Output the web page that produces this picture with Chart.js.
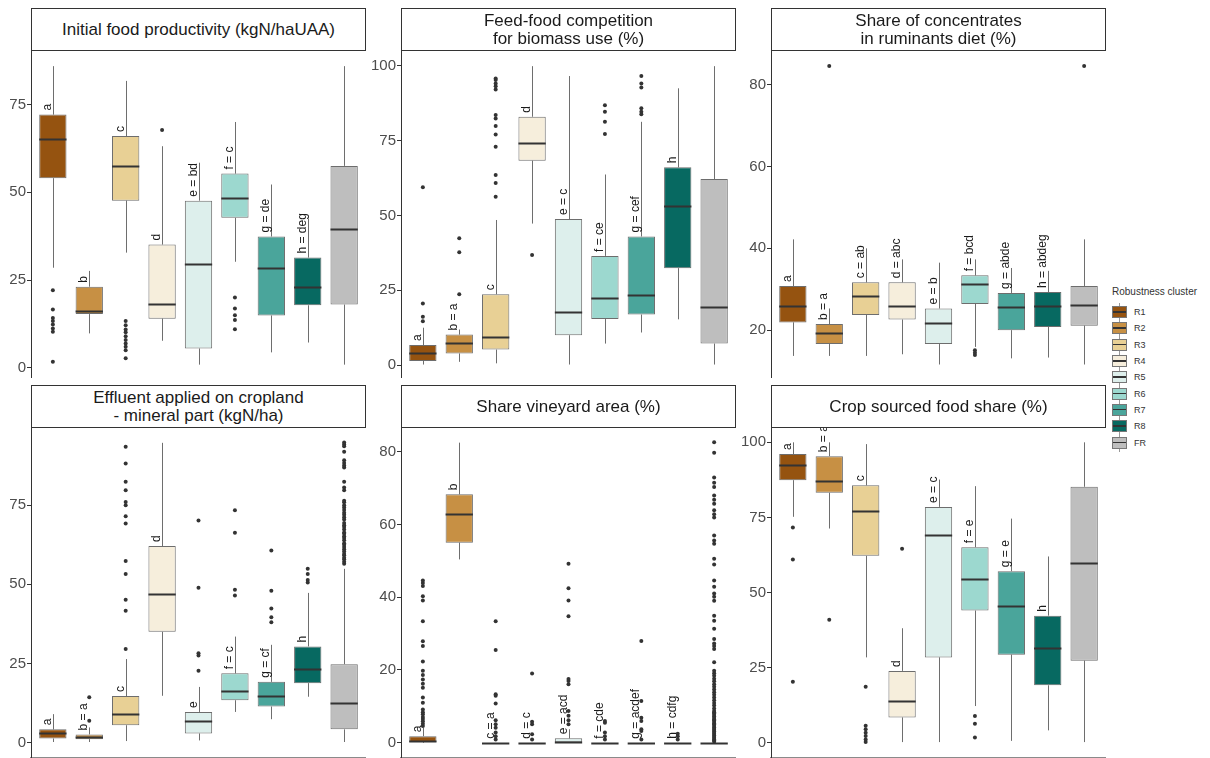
<!DOCTYPE html>
<html>
<head>
<meta charset="utf-8">
<script src="https://cdn.jsdelivr.net/npm/chart.js@4.4.1/dist/chart.umd.min.js"></script>
<style>
  body { margin: 0; width: 1210px; height: 758px; background: #fff; position: relative; overflow: hidden;
         font-family: "Liberation Sans", Arial, sans-serif; }
  canvas { position: absolute; }
  .strip { position: absolute; box-sizing: border-box; border: 1px solid #333; background: #fff; z-index: 2;
           display: flex; align-items: center; justify-content: center; text-align: center;
           white-space: pre-line; font-size: 17px; line-height: 18px; color: #1a1a1a; }
  .legend { position: absolute; left: 1112px; top: 286px; font-size: 9px; color: #333; z-index: 3; }
  .legend .ttl { font-size: 10px; margin-bottom: 7px; }
  .legend .row { height: 16.3px; display: flex; align-items: center; }
  .legend .key { position: relative; width: 15px; height: 12px; box-sizing: border-box; border: 1px solid #777; margin-right: 7px; }
  .legend .key::after { content: ""; position: absolute; left: 0; right: 0; top: 4px; height: 1.5px; background: #333; }
  .legend .key::before { content: ""; position: absolute; left: 6px; top: -4px; height: 18px; width: 1px; background: #999; z-index: -1; }
</style>
</head>
<body>
<div class="legend" id="legend"></div>
<script>
// groupes et couleurs
const clusters = ['R1', 'R2', 'R3', 'R4', 'R5', 'R6', 'R7', 'R8', 'FR'];
const palette = ['#955310', '#c79044', '#e8d095', '#f6eedc', '#ddefec', '#9cd8cf', '#4aa59b', '#076961', '#bebebe'];

const titles = [
  'Initial food productivity (kgN/haUAA)',
  'Feed-food competition\nfor biomass use (%)',
  'Share of concentrates\nin ruminants diet (%)',
  'Effluent applied on cropland\n- mineral part (kgN/ha)',
  'Share vineyard area (%)',
  'Crop sourced food share (%)'
];

// [whisker bas, Q1, mediane, Q3, whisker haut] par groupe
const prodStats = [[28.5, 54.0, 65.1, 72.1, 85.9], [9.8, 15.3, 16.1, 23.1, 27.6], [32.8, 47.6, 57.4, 66.0, 81.7],
  [7.7, 14.0, 18.3, 35.1, 63.1], [0.9, 5.5, 29.7, 47.6, 58.4], [30.2, 42.7, 48.4, 55.3, 70.0],
  [4.4, 14.9, 28.5, 37.4, 52.2], [7.2, 17.8, 22.9, 31.4, 42.5], [0.9, 18.0, 39.5, 57.5, 85.9]];
const prodOutliers = [[22.1, 16.6, 14.2, 13.3, 12.3, 11.2, 10.3, 1.7], [],
  [13.3, 12.1, 10.9, 10.1, 9.0, 7.9, 6.9, 6.0, 5.0, 2.7], [67.7], [], [20.0, 16.9, 15.0, 13.6, 11.0], [], [], []];
const prodLetters = ['a', 'b', 'c', 'd', 'e = bd', 'f = c', 'g = de', 'h = deg', ''];
const prodTicks = [0, 25, 50, 75];

const feedStats = [[0.2, 1.4, 3.9, 6.7, 12.5], [1.1, 3.9, 7.5, 10.2, 11.9], [0.6, 5.2, 9.5, 23.7, 48.5],
  [47.3, 68.3, 74.1, 83.0, 99.9], [0.2, 10.0, 17.6, 48.8, 96.6], [7.2, 15.4, 22.5, 36.5, 63.7],
  [10.9, 16.9, 23.3, 43.0, 81.3], [15.3, 32.4, 53.1, 66.1, 92.5], [0.2, 7.2, 19.3, 62.2, 99.9]];
const feedOutliers = [[59.4, 20.6, 16.2, 14.7], [42.4, 37.7, 23.7],
  [56.3, 60.9, 63.5, 73.0, 77.1, 79.9, 82.4, 83.6, 92.1, 93.2, 94.1, 95.3, 95.8], [36.8], [],
  [77.2, 81.3, 84.7, 86.8], [83.8, 84.7, 85.8, 92.8, 94.1, 96.6], [], []];
const feedLetters = ['a', 'b = a', 'c', 'd', 'e = c', 'f = ce', 'g = cef', 'h', ''];
const feedTicks = [0, 25, 50, 75, 100];

const concStats = [[13.7, 21.9, 25.9, 30.8, 42.2], [13.7, 16.6, 19.3, 21.5, 25.3], [13.7, 23.7, 28.3, 31.7, 40.0],
  [14.1, 22.6, 26.0, 31.7, 37.3], [11.6, 16.6, 21.8, 25.3, 36.5], [15.9, 26.4, 31.2, 33.4, 37.3],
  [13.1, 20.0, 25.7, 29.1, 35.2], [13.3, 20.8, 25.9, 29.3, 34.5], [11.6, 21.1, 26.1, 30.8, 42.2]];
const concOutliers = [[], [84.6], [], [], [], [15.1, 14.5, 13.9], [], [], [84.6]];
const concLetters = ['a', 'b = a', 'c = ab', 'd = abc', 'e = b', 'f = bcd', 'g = abde', 'h = abdeg', ''];
const concTicks = [20, 40, 60, 80];

const efflStats = [[0.2, 1.3, 2.9, 4.2, 9.0], [0.2, 1.1, 1.8, 2.6, 4.8], [0.5, 5.5, 9.0, 14.7, 26.4],
  [14.8, 35.0, 46.9, 62.1, 94.7], [0.7, 2.9, 6.7, 9.7, 17.6], [9.7, 13.4, 16.2, 21.9, 33.5],
  [7.4, 11.4, 14.7, 19.2, 30.9], [14.5, 18.8, 23.2, 30.4, 47.3], [0.2, 4.2, 12.5, 24.8, 54.9]];
const efflOutliers = [[], [6.9, 14.3],
  [29.6, 41.7, 45.1, 53.3, 57.4, 69.2, 71.5, 75.0, 76.0, 79.7, 82.4, 88.2, 93.5], [],
  [22.7, 27.5, 28.2, 48.9, 70.2], [46.5, 48.3, 66.3, 73.4], [38.0, 39.6, 42.4, 48.0, 60.7],
  [50.6, 51.4, 53.3, 54.9],
  [56.5, 57.1, 57.9, 58.4, 59.2, 59.6, 60.4, 61.1, 61.8, 62.5, 63.0, 63.9, 64.6, 65.2, 66.0, 66.4, 67.3, 68.1,
   68.7, 69.4, 70.5, 71.2, 72.0, 72.6, 73.5, 74.3, 75.0, 75.9, 76.4, 79.7, 80.6, 82.4, 86.9, 87.5, 88.3, 89.2,
   91.9, 93.6, 94.2, 94.8]];
const efflLetters = ['a', 'b = a', 'c', 'd', 'e', 'f = c', 'g = cf', 'h', ''];
const efflTicks = [0, 25, 50, 75];

const vineStats = [[0, 0.2, 0.5, 1.8, 4.1], [50.4, 55.0, 63.0, 68.3, 82.5], [0, 0, 0, 0, 0], [0, 0, 0, 0, 0],
  [0, 0, 0.2, 1.2, 3.7], [0, 0, 0, 0, 0], [0, 0, 0, 0, 0], [0, 0, 0, 0, 0], [0, 0, 0, 0, 0]];
const vineOutliers = [
  [4.6, 5.2, 5.9, 6.5, 7.1, 7.8, 8.4, 9.1, 11.0, 12.4, 15.1, 16.2, 17.4, 18.6, 19.8, 22.3, 26.6, 27.9, 33.4,
   39.1, 40.3, 43.1, 43.9, 44.6],
  [],
  [0.9, 1.8, 2.8, 4.1, 5.1, 6.2, 10.8, 12.9, 13.3, 25.5, 33.4],
  [0.9, 2.3, 5.1, 5.8, 19.0],
  [5.1, 6.2, 7.4, 8.7, 16.1, 17.0, 17.5, 34.8, 39.1, 42.5, 49.2],
  [0.9, 1.8, 2.8, 5.5, 6.0],
  [0.9, 3.2, 3.7, 6.0, 6.9, 11.5, 28.0],
  [0.9, 1.8, 2.5],
  [0.3, 0.6, 0.9, 1.3, 1.6, 2.0, 2.4, 2.7, 3.1, 3.5, 3.8, 4.2, 4.6, 5.0, 5.3, 5.7, 6.1, 6.4, 6.8, 7.2, 7.6, 8.0,
   8.4, 8.7, 9.4, 10.2, 10.9, 11.7, 12.4, 13.2, 13.9, 14.6, 15.4, 16.1, 16.9, 17.6, 18.4, 19.1, 19.8, 22.1,
   25.8, 26.6, 27.3, 28.5, 31.3, 33.5, 34.9, 39.0, 40.1, 41.0, 42.9, 44.6, 49.0, 50.6, 54.7, 55.6, 57.0, 61.9,
   62.8, 63.9, 65.7, 66.8, 68.0, 70.3, 71.5, 72.9, 79.7, 82.6]];
const vineLetters = ['a', 'b', 'c = a', 'd = c', 'e = acd', 'f = cde', 'g = acdef', 'h = cdfg', ''];
const vineTicks = [0, 20, 40, 60, 80];

const cropStats = [[75.2, 87.4, 92.4, 96.1, 100], [71.3, 83.2, 87.1, 95.4, 100], [28.4, 62.2, 77.0, 85.7, 99.4],
  [0.2, 8.4, 13.9, 23.9, 38.1], [0.2, 28.4, 69.0, 78.5, 87.6], [12.2, 44.0, 54.6, 65.1, 85.4],
  [0.6, 29.3, 45.5, 57.1, 74.6], [4.1, 19.1, 31.4, 42.3, 62.0], [0.2, 27.3, 59.8, 85.2, 100]];
const cropOutliers = [[71.6, 61.0, 20.3], [40.9], [18.6, 5.6, 4.5, 3.3, 2.2, 1.1, 0.2], [64.6], [],
  [8.9, 6.3, 1.7], [], [], []];
const cropLetters = ['a', 'b = a', 'c', 'd', 'e = c', 'f = e', 'g = e', 'h', ''];
const cropTicks = [0, 25, 50, 75, 100];

// mise en page des panneaux
const panels = [
  { stats: prodStats, out: prodOutliers, letters: prodLetters, ticks: prodTicks, left: 0, top: 50, h: 328, yMin: -2.9, yMax: 90.5 },
  { stats: feedStats, out: feedOutliers, letters: feedLetters, ticks: feedTicks, left: 370, top: 50, h: 328, yMin: -4.3, yMax: 105.3 },
  { stats: concStats, out: concOutliers, letters: concLetters, ticks: concTicks, left: 740, top: 50, h: 328, yMin: 8.3, yMax: 88.5 },
  { stats: efflStats, out: efflOutliers, letters: efflLetters, ticks: efflTicks, left: 0, top: 427, h: 331, yMin: -4.85, yMax: 99.7, bottom: true },
  { stats: vineStats, out: vineOutliers, letters: vineLetters, ticks: vineTicks, left: 370, top: 427, h: 331, yMin: -4.2, yMax: 86.8, bottom: true },
  { stats: cropStats, out: cropOutliers, letters: cropLetters, ticks: cropTicks, left: 740, top: 427, h: 331, yMin: -5.1, yMax: 105.1, bottom: true }
];

// whiskers, medianes et lettres
const boxExtras = {
  id: 'boxExtras',
  beforeDatasetsDraw(chart) {
    const { ctx, scales: { x, y } } = chart;
    const stats = chart.$panel.stats;
    ctx.save();
    ctx.strokeStyle = '#6e6e6e';
    ctx.lineWidth = 1;
    stats.forEach((s, i) => {
      const px = Math.round(x.getPixelForValue(i)) + 0.5;
      ctx.beginPath();
      ctx.moveTo(px, y.getPixelForValue(s[3]));
      ctx.lineTo(px, y.getPixelForValue(s[4]));
      ctx.moveTo(px, y.getPixelForValue(s[1]));
      ctx.lineTo(px, y.getPixelForValue(s[0]));
      ctx.stroke();
    });
    ctx.restore();
  },
  afterDatasetsDraw(chart) {
    const { ctx, scales: { x, y } } = chart;
    const p = chart.$panel;
    const bars = chart.getDatasetMeta(1).data;
    ctx.save();
    p.stats.forEach((s, i) => {
      const px = x.getPixelForValue(i);
      const half = bars[i].width / 2;
      const my = Math.round(y.getPixelForValue(s[2])) + 0.5;
      ctx.strokeStyle = '#333';
      ctx.lineWidth = 2;
      ctx.beginPath();
      ctx.moveTo(px - half, my);
      ctx.lineTo(px + half, my);
      ctx.stroke();
      if (p.letters[i]) {
        ctx.save();
        ctx.translate(px - 2, y.getPixelForValue(s[3]) - 4);
        ctx.rotate(-Math.PI / 2);
        ctx.font = '12px "Liberation Sans", Arial, sans-serif';
        ctx.fillStyle = '#1a1a1a';
        ctx.textAlign = 'left';
        ctx.textBaseline = 'alphabetic';
        ctx.fillText(p.letters[i], 0, 0);
        ctx.restore();
      }
    });
    ctx.restore();
  }
};

panels.forEach((p, k) => {
  const strip = document.createElement('div');
  strip.className = 'strip';
  strip.style.left = (p.left + 31) + 'px';
  strip.style.top = (p.top - 42) + 'px';
  strip.style.width = '335px';
  strip.style.height = '43px';
  strip.textContent = titles[k];
  document.body.appendChild(strip);

  const cv = document.createElement('canvas');
  cv.width = 366;
  cv.height = p.h;
  cv.style.left = p.left + 'px';
  cv.style.top = p.top + 'px';
  document.body.appendChild(cv);

  const points = [];
  p.out.forEach((vals, i) => vals.forEach(v => points.push({ x: i, y: v })));

  const chart = new Chart(cv.getContext('2d'), {
    type: 'bar',
    data: {
      datasets: [
        {
          type: 'scatter',
          data: points,
          pointRadius: 2,
          pointBackgroundColor: '#333',
          pointBorderWidth: 0
        },
        {
          type: 'bar',
          data: p.stats.map((s, i) => ({ x: i, y: [s[1], s[3]] })),
          backgroundColor: palette,
          borderColor: 'rgba(60,60,60,0.75)',
          borderWidth: 1,
          borderSkipped: false,
          barPercentage: 0.75,
          categoryPercentage: 1
        }
      ]
    },
    options: {
      responsive: false,
      animation: false,
      devicePixelRatio: 1,
      layout: { padding: 0, autoPadding: false },
      plugins: { legend: { display: false }, tooltip: { enabled: false } },
      scales: {
        x: {
          type: 'linear',
          offset: false,
          min: -0.6,
          max: 8.6,
          display: !!p.bottom,
          ticks: { display: false },
          grid: { display: false },
          border: { display: true, color: '#8a8a8a', width: 2 },
          afterFit: s => { s.height = 0; s.paddingLeft = 0; s.paddingRight = 0; }
        },
        y: {
          min: p.yMin,
          max: p.yMax,
          afterBuildTicks: s => { s.ticks = p.ticks.map(v => ({ value: v })); },
          afterFit: s => { s.width = 31; s.paddingTop = 0; s.paddingBottom = 0; },
          ticks: { color: '#4d4d4d', font: { size: 15, family: '"Liberation Sans", Arial, sans-serif' }, padding: 1 },
          grid: { display: true, drawOnChartArea: false, drawTicks: true, tickLength: 4, color: '#333' },
          border: { display: true, color: '#333', width: 1 }
        }
      }
    },
    plugins: [{ id: 'attach', beforeInit(c) { c.$panel = p; } }, boxExtras]
  });
});

// legende
const legend = document.getElementById('legend');
legend.innerHTML = '<div class="ttl">Robustness cluster</div>' +
  clusters.map((c, i) => '<div class="row"><span class="key" style="background:' + palette[i] + '"></span>' + c + '</div>').join('');
</script>
</body>
</html>
